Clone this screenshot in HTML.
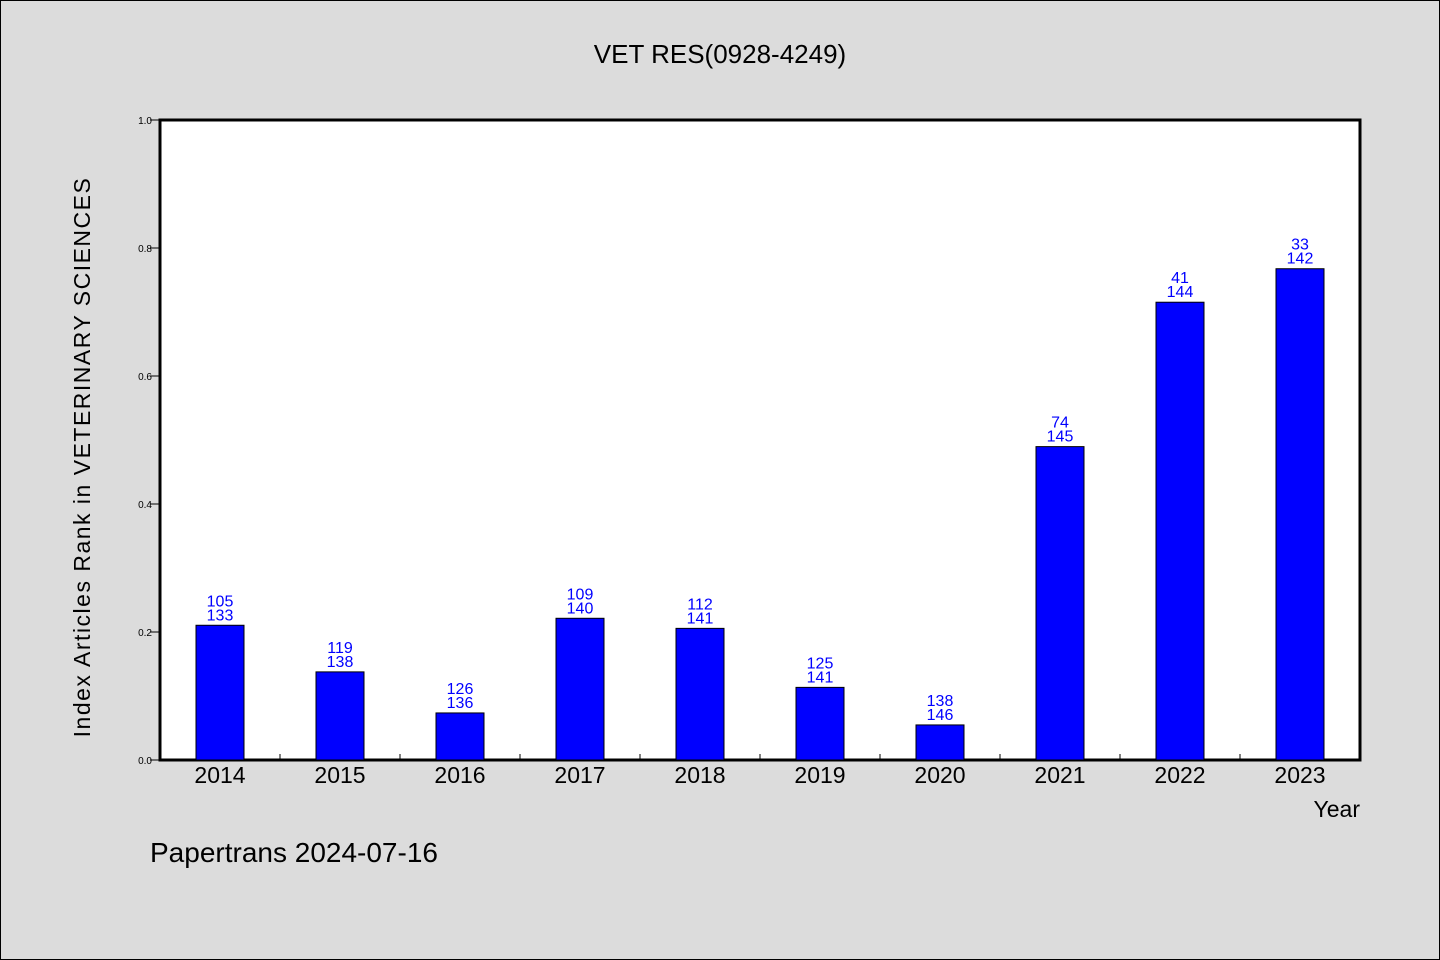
<!DOCTYPE html>
<html><head><meta charset="utf-8"><style>
body{margin:0;background:#dcdcdc;}
svg{display:block;font-family:"WenQuanYi Zen Hei","Liberation Sans",sans-serif;}
</style></head><body>
<svg id="chart" width="1440" height="960">
<rect x="0.5" y="0.5" width="1439" height="959" fill="#dcdcdc" stroke="#000"/>
<text x="720" y="63" text-anchor="middle" font-size="26">VET RES(0928-4249)</text>
<rect x="160" y="120" width="1200" height="640" fill="#fff" stroke="#000" stroke-width="3"/>
<g id="yticks"></g>
<g id="xticks"></g>
<g id="bars"></g>
<text transform="translate(90,457) rotate(-90)" text-anchor="middle" font-size="23" letter-spacing="1.5">Index Articles Rank in VETERINARY SCIENCES</text>
<text x="1360" y="817" text-anchor="end" font-size="23">Year</text>
<text x="150" y="862" font-size="28">Papertrans 2024-07-16</text>
</svg>
<script>
const years=["2014","2015","2016","2017","2018","2019","2020","2021","2022","2023"];
const ranks=[105,119,126,109,112,125,138,74,41,33];
const totals=[133,138,136,140,141,141,146,145,144,142];
const yTickLabels=["0.0","0.2","0.4","0.6","0.8","1.0"];
const NS="http://www.w3.org/2000/svg";
const x0=160,x1=1360,y0=760,y1=120;
const band=(x1-x0)/years.length;
const xc=i=>x0+band*(i+0.5);
const ys=v=>y0-(y0-y1)*v;
function mk(t,a,p){const e=document.createElementNS(NS,t);for(const k in a)e.setAttribute(k,a[k]);p.appendChild(e);return e;}
const yg=document.getElementById('yticks');
yTickLabels.forEach(l=>{const v=parseFloat(l),y=ys(v);
const ln=mk('line',{x1:150,x2:160,y1:y,y2:y,stroke:'#000','stroke-width':1},yg);


const t=mk('text',{x:152,y:y+4,'text-anchor':'end','font-size':10},yg);


t.textContent=l;});
const xg=document.getElementById('xticks');
const bg=document.getElementById('bars');
years.forEach((yr,i)=>{
if(i>0){const ln=mk('line',{x1:x0+band*i,x2:x0+band*i,y1:y0,y2:y0-6,stroke:'#000','stroke-width':1},xg);

}
const t=mk('text',{x:xc(i),y:783,'text-anchor':'middle','font-size':23},xg);


t.textContent=yr;
const v=1-ranks[i]/totals[i],top=ys(v);
const r=mk('rect',{x:xc(i)-24,y:top,width:48,height:y0-top,fill:'#0000ff',stroke:'#000','stroke-width':1},bg);


const a=mk('text',{x:xc(i),y:top-19,'text-anchor':'middle','font-size':16,fill:'#0000ff'},bg);


a.textContent=ranks[i];
const b=mk('text',{x:xc(i),y:top-5,'text-anchor':'middle','font-size':16,fill:'#0000ff'},bg);


b.textContent=totals[i];
});
</script>
</body></html>
